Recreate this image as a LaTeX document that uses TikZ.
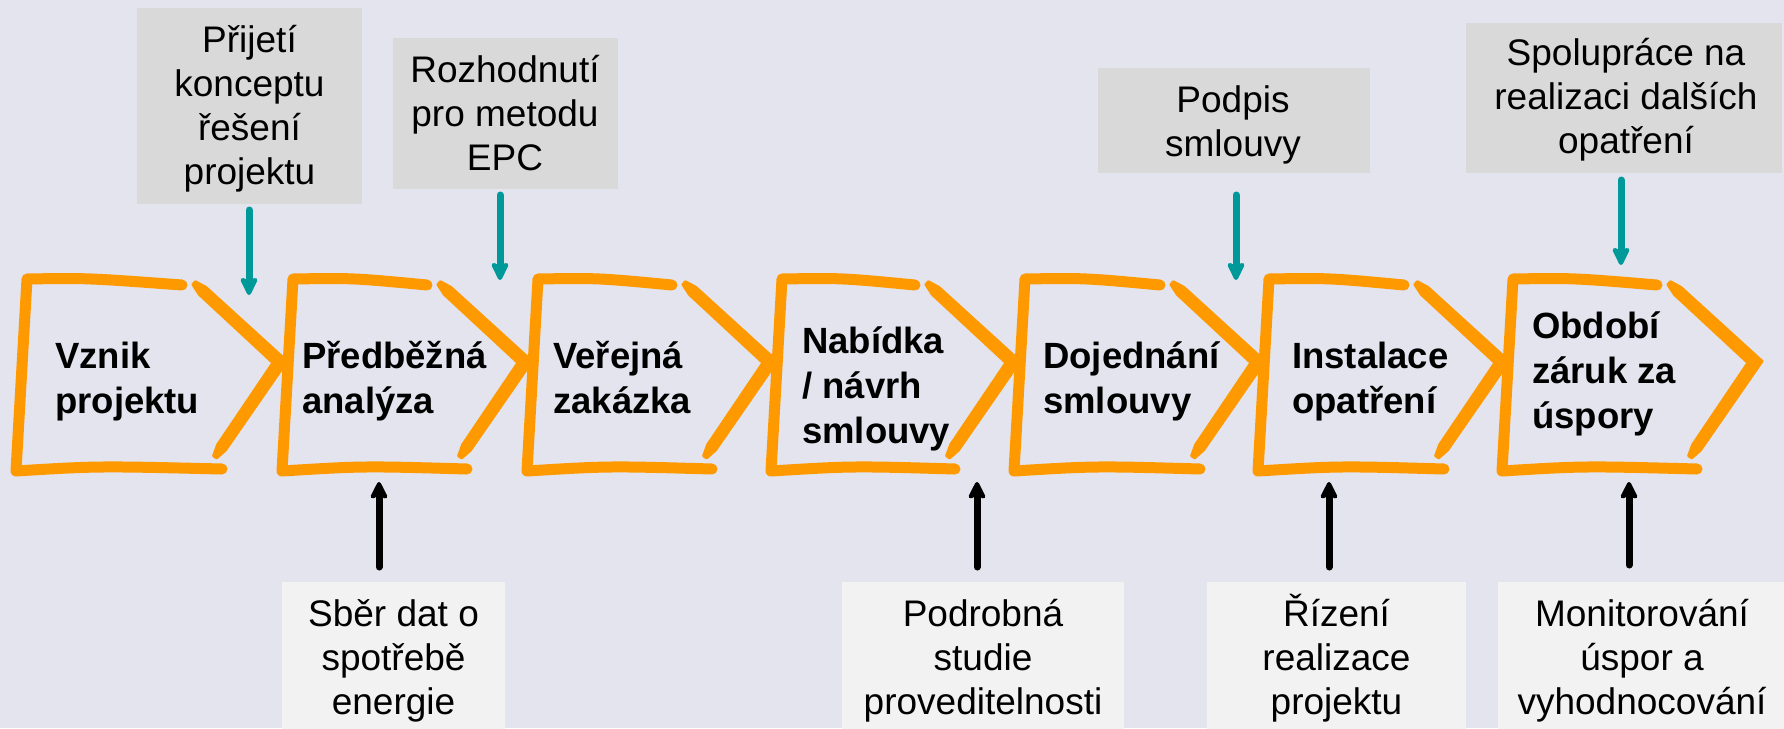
\documentclass[tikz,border=0pt]{standalone}
\usepackage{fontspec}
\setmainfont{Liberation Sans}
\usetikzlibrary{arrows.meta}
\definecolor{bgc}{RGB}{227,228,238}
\definecolor{topgray}{RGB}{217,217,217}
\definecolor{botgray}{RGB}{242,242,242}
\definecolor{tealc}{RGB}{0,153,153}
\definecolor{orangec}{RGB}{255,153,0}

\newcommand\clines[1]{\vtop{\halign{\hfil##\hfil\cr#1\crcr}}}
\newcommand\llines[1]{\vtop{\halign{##\hfil\cr#1\crcr}}}

\tikzset{
  boxtop/.style={fill=topgray, draw=none, inner sep=0pt, anchor=north west},
  boxbot/.style={fill=botgray, draw=none, inner sep=0pt, anchor=north west},
  boxtext/.style={inner sep=0pt, anchor=base, font=\fontsize{37pt}{44.3pt}\selectfont},
  chevtext/.style={inner sep=0pt, anchor=base west, font=\fontsize{36.5pt}{45pt}\selectfont\bfseries},
  chevline/.style={draw=orangec, line width=11pt, line cap=round, line join=round},
  chevtip/.style={fill=orangec, draw=orangec, line width=2.5pt, line join=round},
  tealarrow/.style={draw=tealc, line width=7pt, line cap=round, -{Stealth[length=22pt,width=21pt,inset=5pt,round]}},
  blackarrow/.style={draw=black, line width=7pt, line cap=round, -{Stealth[length=21pt,width=21pt,inset=5pt,round]}},
}

% #1 = left x of box, #2 = x of chevron tip
\newcommand\chevron[2]{%
  \draw[chevline] ({#2-98},285) .. controls ({#1+60},278) .. (#1,279) -- ({#1-11},471) .. controls ({#1+70},466) .. ({#2-58},469);
  \fill[chevtip] ({#2-84.6},281.5) -- ({#2-74},287.2) -- ({#2+7.3},361.2) -- ({#2-54.4},450.3) -- ({#2-63.35},458.1)
     -- ({#2-66.65},455.9) -- ({#2-62.6},444.7) -- ({#2-7.3},362.8) -- ({#2-80.8},294.6) -- ({#2-87.4},284.5) -- cycle;
}

\begin{document}
\begin{tikzpicture}[x=1pt,y=-1pt]
\useasboundingbox (0,0) rectangle (1784,728);
\fill[bgc] (0,0) rectangle (1784,728);

% chevrons
\chevron{27}{280}
\chevron{293}{525}
\chevron{538}{770}
\chevron{782}{1013}
\chevron{1025}{1258}
\chevron{1269}{1502}
\chevron{1513}{1755}

% chevron texts
\node[chevtext] (c1) at (55,368) {\llines{Vznik\cr projektu}};
\node[chevtext] (c2) at (302,368) {\llines{Předběžná\cr analýza}};
\node[chevtext] (c3) at (553,368) {\llines{Veřejná\cr zakázka}};
\node[chevtext] (c4) at (802,353) {\llines{Nabídka\cr / návrh\cr smlouvy}};
\node[chevtext] (c5) at (1043,368) {\llines{Dojednání\cr smlouvy}};
\node[chevtext] (c6) at (1292,368) {\llines{Instalace\cr opatření}};
\node[chevtext] (c7) at (1532,338) {\llines{Období\cr záruk za\cr úspory}};

% top boxes
\node[boxtop, minimum width=225pt, minimum height=196pt] (t1) at (137,8) {};
\node[boxtop, minimum width=225pt, minimum height=151pt] (t2) at (393,38) {};
\node[boxtop, minimum width=272pt, minimum height=105pt] (t3) at (1098,68) {};
\node[boxtop, minimum width=316pt, minimum height=150pt] (t4) at (1466,23) {};
\node[boxtext] (t1x) at (249.5,52) {\clines{Přijetí\cr konceptu\cr řešení\cr projektu}};
\node[boxtext] (t2x) at (505,82) {\clines{Rozhodnutí\cr pro metodu\cr EPC}};
\node[boxtext] (t3x) at (1233,112) {\clines{Podpis\cr smlouvy}};
\node[boxtext] (t4x) at (1626,65) {\clines{Spolupráce na\cr realizaci dalších\cr opatření}};

% bottom boxes
\node[boxbot, minimum width=223pt, minimum height=150pt] (b1) at (282,582) {};
\node[boxbot, minimum width=282pt, minimum height=150pt] (b2) at (842,582) {};
\node[boxbot, minimum width=259pt, minimum height=150pt] (b3) at (1207,582) {};
\node[boxbot, minimum width=290pt, minimum height=150pt] (b4) at (1498,582) {};
\node[boxtext] (b1x) at (393.5,626) {\clines{Sběr dat o\cr spotřebě\cr energie}};
\node[boxtext] (b2x) at (983,626) {\clines{Podrobná\cr studie\cr proveditelnosti}};
\node[boxtext] (b3x) at (1336.5,626) {\clines{Řízení\cr realizace\cr projektu}};
\node[boxtext] (b4x) at (1642,626) {\clines{Monitorování\cr úspor a\cr vyhodnocování}};

% teal arrows
\coordinate (ta1) at (249,210); \coordinate (ta1e) at (249,295);
\coordinate (ta2) at (500,195); \coordinate (ta2e) at (500,280);
\coordinate (ta3) at (1236,195); \coordinate (ta3e) at (1236,280);
\coordinate (ta4) at (1621,180); \coordinate (ta4e) at (1621,265);
\draw[tealarrow] (ta1) -- (ta1e);
\draw[tealarrow] (ta2) -- (ta2e);
\draw[tealarrow] (ta3) -- (ta3e);
\draw[tealarrow] (ta4) -- (ta4e);

% black arrows
\coordinate (ba1) at (379,567); \coordinate (ba1e) at (379,482);
\coordinate (ba2) at (977,567); \coordinate (ba2e) at (977,482);
\coordinate (ba3) at (1329,567); \coordinate (ba3e) at (1329,482);
\coordinate (ba4) at (1629,565); \coordinate (ba4e) at (1629,482);
\draw[blackarrow] (ba1) -- (ba1e);
\draw[blackarrow] (ba2) -- (ba2e);
\draw[blackarrow] (ba3) -- (ba3e);
\draw[blackarrow] (ba4) -- (ba4e);
\end{tikzpicture}
\end{document}
